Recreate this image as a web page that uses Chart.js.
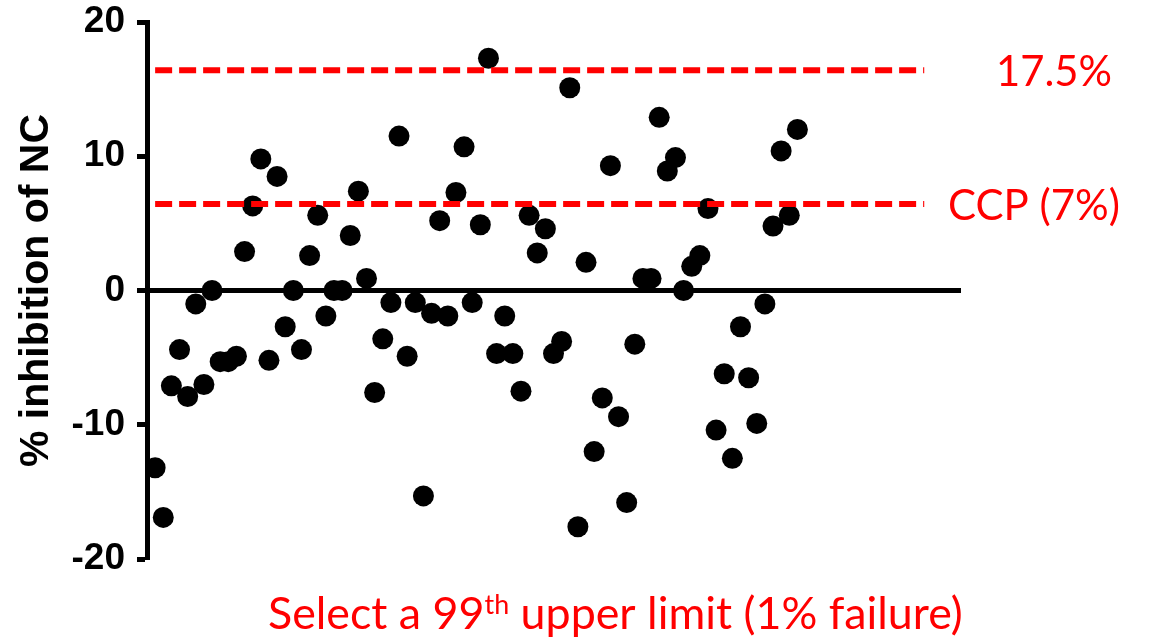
<!DOCTYPE html>
<html>
<head>
<meta charset="utf-8">
<script src="https://cdn.jsdelivr.net/npm/chart.js@4"></script>
<style>
  html, body { margin: 0; padding: 0; background: #fff; }
  #wrap { width: 1150px; height: 638px; }
</style>
</head>
<body>
<div id="wrap"><canvas id="c" width="1150" height="638"></canvas></div>
<script>
// ---- data ----
const sampleNumbers = [
  1, 2, 3, 4, 5, 6, 7, 8, 9, 10,
  11, 12, 13, 14, 15, 16, 17, 18, 19, 20,
  21, 22, 23, 24, 25, 26, 27, 28, 29, 30,
  31, 32, 33, 34, 35, 36, 37, 38, 39, 40,
  41, 42, 43, 44, 45, 46, 47, 48, 49, 50,
  51, 52, 53, 54, 55, 56, 57, 58, 59, 60,
  61, 62, 63, 64, 65, 66, 67, 68, 69, 70,
  71, 72, 73, 74, 75, 76, 77, 78, 79, 80
];
const inhibitionValues = [
  -13.2, -16.9, -7.1, -4.4, -7.9, -1.0, -7.0, 0.0, -5.3, -5.3,
  -4.9, 2.9, 6.3, 9.8, -5.2, 8.5, -2.7, 0.0, -4.4, 2.6,
  5.6, -1.9, 0.0, 0.0, 4.1, 7.4, 0.9, -7.6, -3.6, -0.9,
  11.5, -4.9, -0.9, -15.3, -1.7, 5.2, -1.9, 7.3, 10.7, -0.9,
  4.9, 17.3, -4.7, -1.9, -4.7, -7.5, 5.6, 2.8, 4.6, -4.7,
  -3.8, 15.1, -17.6, 2.1, -12.0, -8.0, 9.3, -9.4, -15.8, -4.0,
  0.9, 0.9, 12.9, 8.9, 9.9, 0.0, 1.8, 2.6, 6.1, -10.4,
  -6.2, -12.5, -2.7, -6.5, -9.9, -1.0, 4.8, 10.4, 5.6, 12.0
];
const limitValues = [16.4, 6.45];
const limitLabels = ['17.5%', 'CCP (7%)'];
const limitSpan = [1, 95.6];
const yTickValues = [-20, -10, 0, 10, 20];
const yTitle = '% inhibition of NC';
const footnoteParts = ['Select a 99', 'th', ' upper limit (1% failure)'];

// ---- chart ----
const RED = '#FF0000';
const points = sampleNumbers.map((n, i) => ({ x: n, y: inhibitionValues[i] }));
const limitDatasets = limitValues.map((v, i) => ({
  type: 'line',
  label: limitLabels[i],
  data: limitSpan.map(x => ({ x: x, y: v })),
  borderColor: RED,
  borderWidth: 6,
  borderDash: [17, 7],
  borderCapStyle: 'butt',
  pointRadius: 0,
  fill: false,
  order: 0
}));

function fitFont(ctx, text, family, weight, targetWidth) {
  ctx.font = weight + ' 100px ' + family;
  const w = ctx.measureText(text).width;
  return 100 * targetWidth / w;
}

const textPlugin = {
  id: 'redTexts',
  afterDraw(chart) {
    const ctx = chart.ctx;
    const ys = chart.scales.y;
    const fam = 'Lato, "Open Sans", sans-serif';
    ctx.save();
    ctx.fillStyle = RED;
    ctx.textBaseline = 'alphabetic';
    ctx.textAlign = 'left';
    // limit labels
    const labelX = [996, 948];
    const labelW = [116, 172];
    limitLabels.forEach((t, i) => {
      const size = fitFont(ctx, t, fam, 'normal', labelW[i]);
      ctx.font = 'normal ' + size.toFixed(2) + 'px ' + fam;
      ctx.fillText(t, labelX[i], ys.getPixelForValue(limitValues[i]) + 16);
    });
    // footnote with superscript
    const targetW = 695;
    ctx.font = 'normal 100px ' + fam;
    const w0 = ctx.measureText(footnoteParts[0]).width;
    const w2 = ctx.measureText(footnoteParts[2]).width;
    ctx.font = 'normal 60px ' + fam;
    const w1 = ctx.measureText(footnoteParts[1]).width;
    const S = 100 * targetW / (w0 + w1 + w2);
    let x = 268;
    const base = 629;
    ctx.font = 'normal ' + S.toFixed(2) + 'px ' + fam;
    ctx.fillText(footnoteParts[0], x, base);
    x += ctx.measureText(footnoteParts[0]).width;
    ctx.font = 'normal ' + (S * 0.6).toFixed(2) + 'px ' + fam;
    ctx.fillText(footnoteParts[1], x, base - S * 0.34);
    x += ctx.measureText(footnoteParts[1]).width;
    ctx.font = 'normal ' + S.toFixed(2) + 'px ' + fam;
    ctx.fillText(footnoteParts[2], x, base);
    ctx.restore();
  }
};

new Chart(document.getElementById('c'), {
  data: {
    datasets: [
      ...limitDatasets,
      {
        type: 'scatter',
        label: 'samples',
        data: points,
        backgroundColor: '#000',
        borderColor: '#000',
        borderWidth: 0,
        pointRadius: 10.5,
        pointHoverRadius: 10.5,
        order: 1
      }
    ]
  },
  options: {
    responsive: false,
    animation: false,
    devicePixelRatio: 1,
    layout: { padding: { left: 0, top: 22, right: 190, bottom: 79 } },
    plugins: { legend: { display: false }, tooltip: { enabled: false } },
    scales: {
      x: {
        type: 'linear',
        min: 0,
        max: 100,
        position: { y: 0 },
        ticks: { display: false },
        grid: { display: false },
        border: { display: true, color: '#000', width: 5 }
      },
      y: {
        type: 'linear',
        min: -20,
        max: 20,
        afterBuildTicks: s => { s.ticks = yTickValues.map(v => ({ value: v })); },
        afterFit: s => { s.width = 147; s.paddingTop = 0; s.paddingBottom = 0; },
        ticks: {
          color: '#000',
          padding: 12,
          font: { family: '"Liberation Sans", Arial, sans-serif', size: 37, weight: 'bold' }
        },
        grid: {
          drawOnChartArea: false,
          drawTicks: true,
          tickLength: 10,
          tickWidth: 5,
          tickColor: '#000'
        },
        border: { display: true, color: '#000', width: 5 },
        title: {
          display: true,
          text: yTitle,
          color: '#000',
          padding: { top: 12, bottom: 0 },
          font: { family: '"Liberation Sans", Arial, sans-serif', size: 41, weight: 'bold' }
        }
      }
    }
  },
  plugins: [textPlugin]
});
</script>
</body>
</html>
